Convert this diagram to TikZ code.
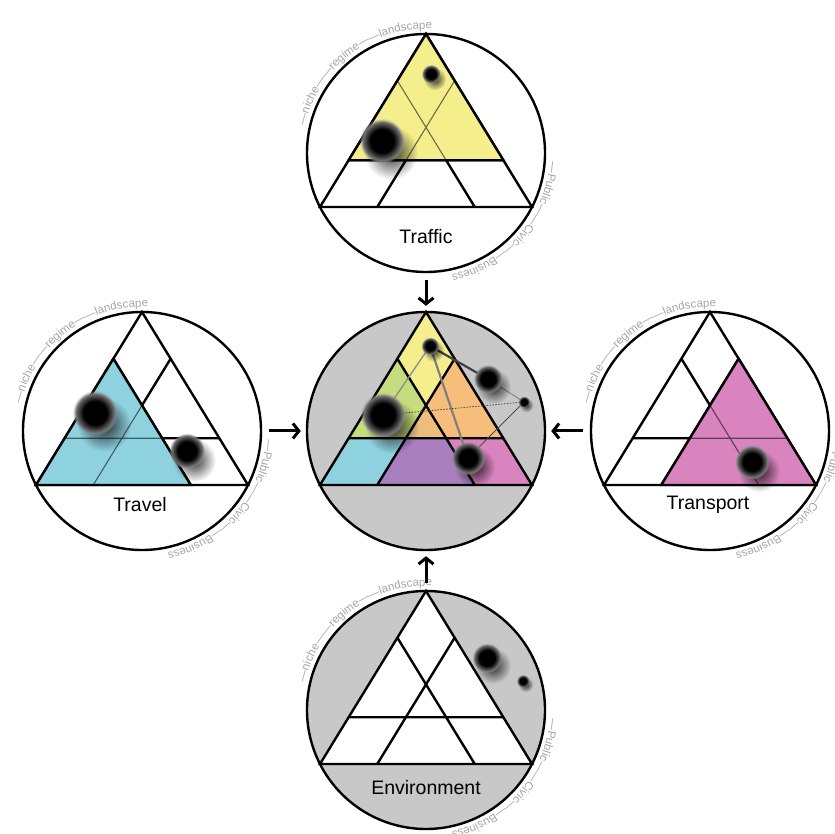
\documentclass[tikz,border=0pt]{standalone}
\usepackage{fontspec}
\setmainfont{Liberation Sans}
\usetikzlibrary{positioning,arrows.meta,calc,fadings,decorations.text}
\definecolor{cYel}{HTML}{F5EE8D}
\definecolor{cGrn}{HTML}{C6DD7E}
\definecolor{cOra}{HTML}{F7BE7B}
\definecolor{cTan}{HTML}{ECBF7E}
\definecolor{cBlu}{HTML}{8FD2DF}
\definecolor{cPur}{HTML}{A97EBD}
\definecolor{cPnk}{HTML}{DA84BF}
\definecolor{cBg}{HTML}{C8C8C8}
\definecolor{cArc}{HTML}{A4A4A4}
\pgfdeclareradialshading{ballshade}{\pgfpoint{0bp}{0bp}}{%
  color(0bp)=(black); color(13bp)=(black); color(18bp)=(black!75);
  color(22bp)=(black!52); color(25bp)=(black!40); color(50bp)=(black!40)}
\tikzfading[name=softblob, inner color=transparent!0, outer color=transparent!100]
\pgfdeclarelayer{links}
\pgfdeclarelayer{balls}
\pgfsetlayers{main,links,balls}
\tikzset{
  ring/.style={circle, draw=black, line width=2.4pt, minimum size=238,
               inner sep=0pt},
  tri/.style={draw=black, line width=2.4pt},
  inner/.style={line width=1.1pt},
  lbl/.style={font=\fontsize{19.5}{22}\selectfont, inner sep=0pt},
  flow/.style={-{Straight Barb[length=6pt,width=15pt]}, line width=3pt,
               shorten <=7pt, shorten >=5pt},
  ball/.style={circle, inner sep=0pt, minimum size=#1, shade,
               shading=ballshade, path fading=circle with fuzzy edge 15 percent},
  shadowblob/.style={fill=black, fill opacity=0.8, path fading=softblob},
  link/.style={line width=#1, line cap=round},
  arcTxt/.style={decorate, decoration={text along path, text color=cArc,
                 text={|\fontsize{11.5}{13}\selectfont|#1}}},
}
% corner and split points of one triangle, named after its ring
\newcommand{\TriPts}[1]{%
  \coordinate (#1-a)  at ($(#1.center)+(0,119)$);
  \coordinate (#1-bl) at ($(#1.center)+(-106,-54)$);
  \coordinate (#1-br) at ($(#1.center)+(106,-54)$);
  \coordinate (#1-l1) at ($(#1-a)!0.27!(#1-bl)$);
  \coordinate (#1-r1) at ($(#1-a)!0.27!(#1-br)$);
  \coordinate (#1-l2) at ($(#1-a)!0.73!(#1-bl)$);
  \coordinate (#1-r2) at ($(#1-a)!0.73!(#1-br)$);
  \coordinate (#1-b0) at ($(#1-bl)!0.27!(#1-br)$);
  \coordinate (#1-b1) at ($(#1-bl)!0.73!(#1-br)$);}
\newcommand{\TriLines}[2]{%
  \draw[#2] (#1-a) -- (#1-bl) -- (#1-br) -- cycle
            (#1-l1) -- (#1-b1) (#1-r1) -- (#1-b0) (#1-l2) -- (#1-r2);}
\newcommand{\SubTri}[5]{%
  \begin{scope}
    \clip (#1-#2) -- (#1-#3) -- (#1-#4) -- cycle;
    \fill[#5] (#1-#2) -- (#1-#3) -- (#1-#4) -- cycle;
    \TriLines{#1}{inner, draw=#5!45!black}
  \end{scope}
  \draw[tri] (#1-#2) -- (#1-#3) -- (#1-#4) -- cycle;}
\newcommand{\ArcLabels}[1]{%
  \path[arcTxt={—niche——regime——landscape}]
    ($(#1.center)+(167:124)$) arc[start angle=167, end angle=30, radius=124];
  \path[arcTxt={—Public——Civic——Business}]
    ($(#1.center)+(-4:124)$) arc[start angle=-4, end angle=-160, radius=124];}
% sphere with its soft shadow: name, x, y, size
\newcommand{\Ball}[4]{%
  \fill[shadowblob] ($(#2,#3)+({0.2*#4},{-0.26*#4})$) circle ({0.6*#4});
  \node[ball=#4] (#1) at (#2,#3) {};}

\begin{document}
\begin{tikzpicture}[x=1pt, y=1pt]
  \useasboundingbox (0,0) rectangle (835,834);

  % --- rings ---
  \node[ring, fill=white] (traffic)   at (426,681) {};
  \node[ring, fill=white] (travel)    at (142,403) {};
  \node[ring, fill=cBg]   (hub)       at (426,403) {};
  \node[ring, fill=white] (transport) at (710,403) {};
  \node[ring, fill=cBg]   (env)       at (426,124) {};
  \foreach \n in {traffic,travel,hub,transport,env}{\TriPts{\n}}

  % --- Traffic: top part ---
  \TriLines{traffic}{tri}
  \SubTri{traffic}{a}{l2}{r2}{cYel}

  % --- Travel: left part ---
  \TriLines{travel}{tri}
  \SubTri{travel}{l1}{bl}{b1}{cBlu}

  % --- Transport: right part ---
  \TriLines{transport}{tri}
  \SubTri{transport}{r1}{br}{b0}{cPnk}

  % --- Environment: empty triangle ---
  \fill[white] (env-a) -- (env-bl) -- (env-br) -- cycle;
  \TriLines{env}{tri}

  % --- hub: all overlaps ---
  \coordinate (hub-x) at (intersection of hub-l1--hub-b1 and hub-r1--hub-b0);
  \coordinate (hub-p) at (intersection of hub-r1--hub-b0 and hub-l2--hub-r2);
  \coordinate (hub-q) at (intersection of hub-l1--hub-b1 and hub-l2--hub-r2);
  \fill[cYel] (hub-a) -- (hub-l1) -- (hub-x) -- (hub-r1) -- cycle;
  \fill[cGrn] (hub-l1) -- (hub-l2) -- (hub-p) -- (hub-x) -- cycle;
  \fill[cOra] (hub-r1) -- (hub-x) -- (hub-q) -- (hub-r2) -- cycle;
  \fill[cTan] (hub-x) -- (hub-p) -- (hub-q) -- cycle;
  \fill[cBlu] (hub-l2) -- (hub-bl) -- (hub-b0) -- (hub-p) -- cycle;
  \fill[cPur] (hub-p) -- (hub-b0) -- (hub-b1) -- (hub-q) -- cycle;
  \fill[cPnk] (hub-q) -- (hub-b1) -- (hub-br) -- (hub-r2) -- cycle;
  \TriLines{hub}{tri}

  % --- labels ---
  \node[lbl] (trafficlbl)   at ($(traffic.center)+(0,-84)$)   {Traffic};
  \node[lbl] (travellbl)    at ($(travel.center)+(-2,-74)$)   {Travel};
  \node[lbl] (transportlbl) at ($(transport.center)+(-2,-74)$) {Transport};
  \node[lbl] (envlbl)       at ($(env.center)+(0,-78)$)       {Environment};

  % --- scale words round the rings ---
  \foreach \n in {traffic,travel,transport,env}{\ArcLabels{\n}}

  % --- arrows into the hub ---
  \draw[flow] (traffic) -- (hub);
  \draw[flow] (travel) -- (hub);
  \draw[flow] (transport) -- (hub);
  \draw[flow] (env) -- (hub);

  % --- spheres ---
  \Ball{tb1}{382}{693}{45}
  \Ball{tb2}{431}{760}{19}
  \Ball{vb1}{95}{421}{45}
  \Ball{vb2}{187}{383}{36}
  \Ball{pb1}{752}{372}{35}
  \Ball{eb1}{487}{176}{30}
  \Ball{eb2}{523}{153}{13}

  \begin{pgfonlayer}{balls}
    \Ball{h1}{430}{488}{18}
    \Ball{h2}{383}{419}{45}
    \Ball{h3}{488}{455}{29}
    \Ball{h4}{524}{432}{12}
    \Ball{h5}{468}{376}{34}
  \end{pgfonlayer}
  \begin{pgfonlayer}{links}
    \draw[link=1.3pt, black!45] (h1.center) -- (h2.center);
    \draw[link=2.2pt, black!75] (h1.center) -- (h3.center);
    \draw[link=2.2pt, black!50] (h1.center) -- (h5.center);
    \draw[link=0.9pt, black!50] (h3.center) -- (h4.center);
    \draw[link=1pt, black!70] (h4.center) -- (h5.center);
    \draw[link=0.9pt, black!70, dotted] (h2.center) -- (h4.center);
  \end{pgfonlayer}
\end{tikzpicture}
\end{document}
